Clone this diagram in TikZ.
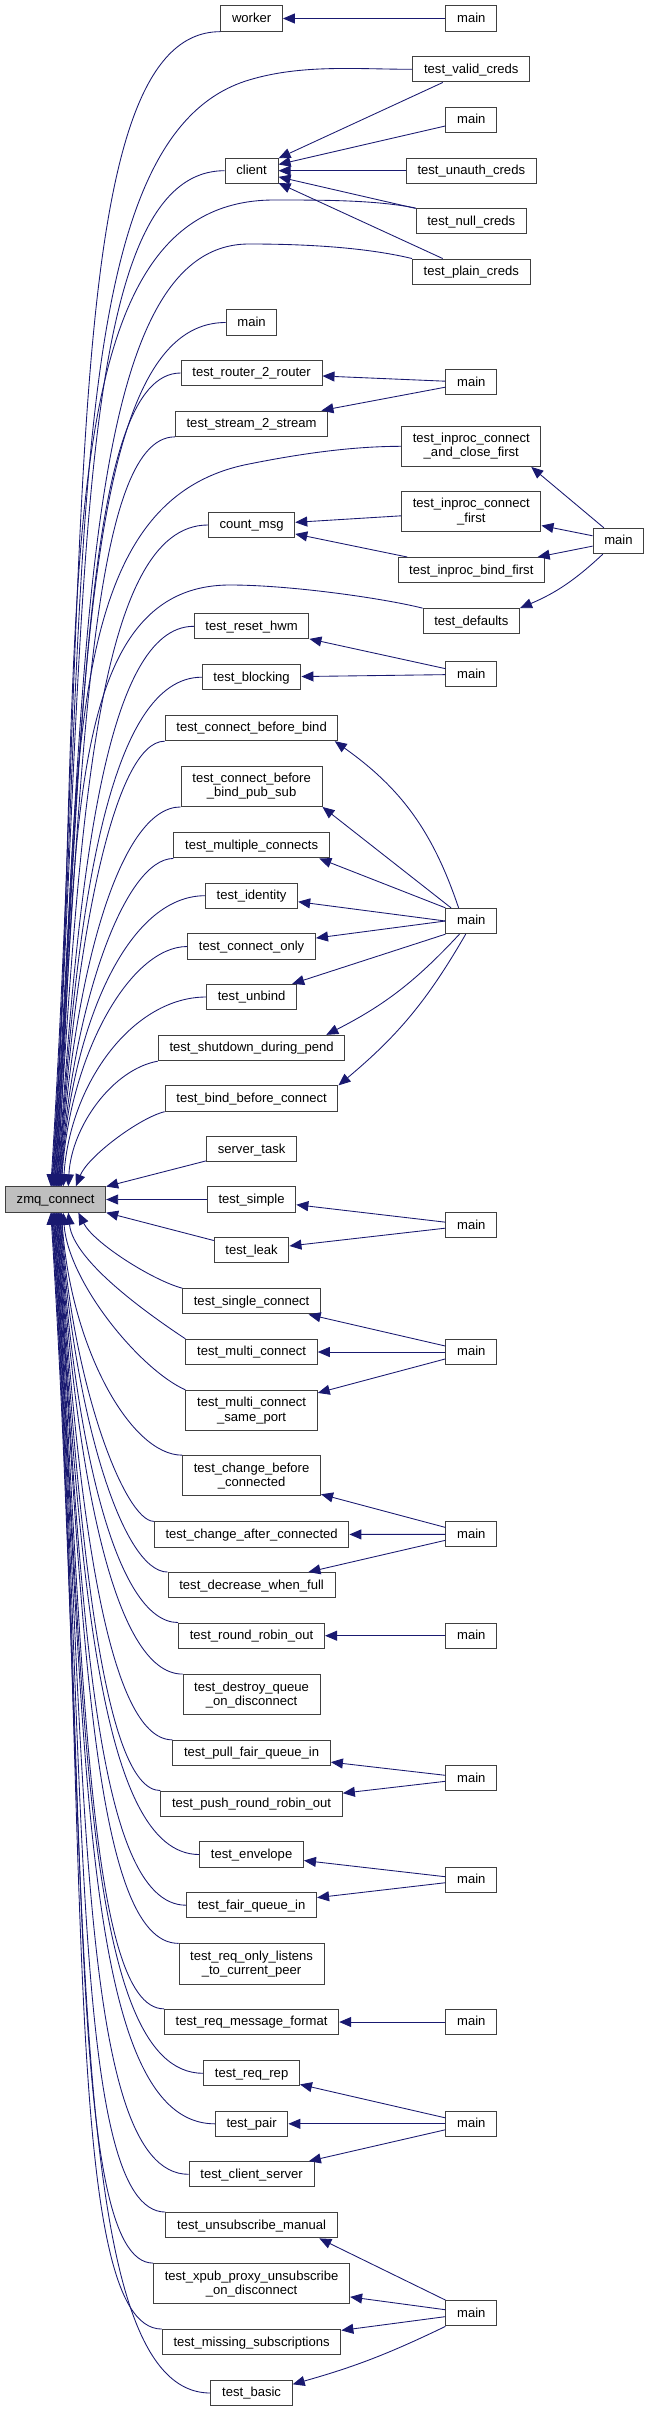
\documentclass[tikz,border=0pt]{standalone}
\usepackage{fontspec}
\setmainfont{Liberation Sans}
\usetikzlibrary{arrows.meta}
\definecolor{edgeblue}{HTML}{191970}
\tikzset{
  >={Triangle[length=9pt,width=7.5pt]},
  fn/.style={draw=black!75, line width=0.75pt, fill=white, inner xsep=8.4pt, inner ysep=0pt,
    minimum height=19pt, text height=8pt, text depth=2.2pt, align=center,
    font=\fontsize{9.8}{10.7}\selectfont},
  twoline/.style={text height={}, text depth={}, minimum height=30.2pt},
  focus/.style={fn, fill=black!25},
  call/.style={->, draw=edgeblue, line width=0.65pt},
}
\begin{document}
\begin{tikzpicture}[x=0.75pt, y=-0.75pt]
  \useasboundingbox (0,0) rectangle (647,2412);
  \node[focus] (zmq) at (55.6,1199.5) {zmq\_connect};

  \node[fn] (worker) at (251.6,18.5) {worker};
  \node[fn] (client) at (251.6,170.7) {client};
  \node[fn] (mainzmq) at (251.6,322.5) {main};
  \node[fn] (router) at (251.6,373) {test\_router\_2\_router};
  \node[fn] (stream) at (251.6,423.7) {test\_stream\_2\_stream};
  \node[fn] (countmsg) at (251.6,525) {count\_msg};
  \node[fn] (hwm) at (251.6,626.3) {test\_reset\_hwm};
  \node[fn] (blocking) at (251.6,677.2) {test\_blocking};
  \node[fn] (cbb) at (251.6,728) {test\_connect\_before\_bind};
  \node[fn, twoline] (cbbps) at (251.6,786.3) {test\_connect\_before\\\_bind\_pub\_sub};
  \node[fn] (multiple) at (251.6,845.3) {test\_multiple\_connects};
  \node[fn] (identity) at (251.6,895.7) {test\_identity};
  \node[fn] (conly) at (251.6,946.5) {test\_connect\_only};
  \node[fn] (unbind) at (251.6,997) {test\_unbind};
  \node[fn] (shutdown) at (251.6,1048) {test\_shutdown\_during\_pend};
  \node[fn] (bbc) at (251.6,1098.5) {test\_bind\_before\_connect};
  \node[fn] (server) at (251.6,1149.2) {server\_task};
  \node[fn] (simple) at (251.6,1199.5) {test\_simple};
  \node[fn] (leak) at (251.6,1250.3) {test\_leak};
  \node[fn] (single) at (251.6,1301.3) {test\_single\_connect};
  \node[fn] (multi) at (251.6,1352) {test\_multi\_connect};
  \node[fn, twoline] (multisp) at (251.6,1410.5) {test\_multi\_connect\\\_same\_port};
  \node[fn, twoline] (chgbefore) at (251.6,1475.8) {test\_change\_before\\\_connected};
  \node[fn] (chgafter) at (251.6,1534.5) {test\_change\_after\_connected};
  \node[fn] (decrease) at (251.6,1585.2) {test\_decrease\_when\_full};
  \node[fn] (rrout) at (251.6,1635.7) {test\_round\_robin\_out};
  \node[fn, twoline] (destroy) at (251.6,1694.7) {test\_destroy\_queue\\\_on\_disconnect};
  \node[fn] (pullfq) at (251.6,1753) {test\_pull\_fair\_queue\_in};
  \node[fn] (pushrr) at (251.6,1803.7) {test\_push\_round\_robin\_out};
  \node[fn] (envelope) at (251.6,1854.5) {test\_envelope};
  \node[fn] (fairq) at (251.6,1905.2) {test\_fair\_queue\_in};
  \node[fn, twoline] (reqonly) at (251.6,1964) {test\_req\_only\_listens\\\_to\_current\_peer};
  \node[fn] (reqmsg) at (251.6,2022) {test\_req\_message\_format};
  \node[fn] (reqrep) at (251.6,2073.3) {test\_req\_rep};
  \node[fn] (pair) at (251.6,2123.8) {test\_pair};
  \node[fn] (clisrv) at (251.6,2174.3) {test\_client\_server};
  \node[fn] (unsub) at (251.6,2225.2) {test\_unsubscribe\_manual};
  \node[fn, twoline] (xpub) at (251.6,2283.7) {test\_xpub\_proxy\_unsubscribe\\\_on\_disconnect};
  \node[fn] (missing) at (251.6,2342.2) {test\_missing\_subscriptions};
  \node[fn] (basic) at (251.6,2393) {test\_basic};

  \node[fn] (mainworker) at (471.3,18.5) {main};
  \node[fn] (validcreds) at (471.3,69.3) {test\_valid\_creds};
  \node[fn] (mainclient) at (471.3,120) {main};
  \node[fn] (unauthcreds) at (471.3,170.7) {test\_unauth\_creds};
  \node[fn] (nullcreds) at (471.3,221.2) {test\_null\_creds};
  \node[fn] (plaincreds) at (471.3,271.7) {test\_plain\_creds};
  \node[fn] (mainrouter) at (471.3,382.3) {main};
  \node[fn, twoline] (inclose) at (471.3,446.3) {test\_inproc\_connect\\\_and\_close\_first};
  \node[fn, twoline] (infirst) at (471.3,511.5) {test\_inproc\_connect\\\_first};
  \node[fn] (inbind) at (471.3,570.2) {test\_inproc\_bind\_first};
  \node[fn] (defaults) at (471.3,621.3) {test\_defaults};
  \node[fn] (mainhwm) at (471.3,674.3) {main};
  \node[fn] (mainbig) at (471.3,921) {main};
  \node[fn] (mainsimple) at (471.3,1225.2) {main};
  \node[fn] (mainmulti) at (471.3,1352) {main};
  \node[fn] (mainchange) at (471.3,1534.3) {main};
  \node[fn] (mainrr) at (471.3,1635.7) {main};
  \node[fn] (mainpull) at (471.3,1778.3) {main};
  \node[fn] (mainenv) at (471.3,1879.7) {main};
  \node[fn] (mainreq) at (471.3,2022) {main};
  \node[fn] (mainpair) at (471.3,2123.8) {main};
  \node[fn] (mainsub) at (471.3,2313.2) {main};
  \node[fn] (maininproc) at (618.5,541) {main};

  % callers above zmq_connect
  \draw[call] (worker.south west) .. controls +(-161,0) and +(40,-636) .. (zmq.110);
  \draw[call] (validcreds.west) .. controls +(-55,0) and +(53,-16) .. (249,80) .. controls +(-191,57) and +(39,-609) .. (zmq.107);
  \draw[call] (client.west) .. controls +(-156,0) and +(36,-559) .. (zmq.105);
  \draw[call] (nullcreds.north west) .. controls +(-40,-8) and +(50,0) .. (274,200) .. controls +(-240,0) and +(35,-543) .. (zmq.102);
  \draw[call] (plaincreds.north west) .. controls +(-50,-12) and +(50,0) .. (249,244) .. controls +(-169,0) and +(33,-519) .. (zmq.100);
  \draw[call] (mainzmq.west) .. controls +(-145,0) and +(30,-475) .. (zmq.97);
  \draw[call] (router.west) .. controls +(-97,0) and +(28,-448) .. (zmq.94);
  \draw[call] (stream.south west) .. controls +(-85,0) and +(26,-413) .. (zmq.92);
  \draw[call] (inclose.west) .. controls +(-50,0) and +(50,-10) .. (249,464) .. controls +(-196,38) and +(25,-398) .. (zmq.89);
  \draw[call] (countmsg.west) .. controls +(-111,0) and +(23,-364) .. (zmq.86);
  \draw[call] (defaults.north west) .. controls +(-40,-10) and +(60,0) .. (230,585) .. controls +(-170,0) and +(21,-331) .. (zmq.84);
  \draw[call] (hwm.west) .. controls +(-89,0) and +(20,-308) .. (zmq.81);
  \draw[call] (blocking.west) .. controls +(-93,0) and +(18,-280) .. (zmq.78);
  \draw[call] (cbb.south west) .. controls +(-51,0) and +(16,-245) .. (zmq.76);
  \draw[call] (cbbps.south west) .. controls +(-62,0) and +(13,-209) .. (zmq.73);
  \draw[call] (multiple.south west) .. controls +(-49,0) and +(12,-181) .. (zmq.71);
  \draw[call] (identity.west) .. controls +(-78,0) and +(10,-160) .. (zmq.68);
  \draw[call] (conly.west) .. controls +(-57,0) and +(8,-132) .. (zmq.66);
  \draw[call] (unbind.west) .. controls +(-72,0) and +(7,-105) .. (zmq.60);
  \draw[call] (shutdown.south west) .. controls +(-45,8) and +(3,-60) .. (zmq.46);
  \draw[call] (bbc.south west) .. controls +(-25,6) and +(12,-30) .. (zmq.33);
  \draw[call] (server) -- (zmq);
  \draw[call] (simple) -- (zmq);
  \draw[call] (leak) -- (zmq);

  % callers below zmq_connect
  \draw[call] (single.north west) .. controls +(-30,-8) and +(15,30) .. (zmq.-30);
  \draw[call] (multi.north west) .. controls +(-30,-20) and +(5,50) .. (zmq.-46);
  \draw[call] (multisp.north west) .. controls +(-45,-20) and +(5,70) .. (zmq.-60);
  \draw[call] (chgbefore.north west) .. controls +(-52,0) and +(9,134) .. (zmq.-66);
  \draw[call] (chgafter.north west) .. controls +(-29,0) and +(11,171) .. (zmq.-68);
  \draw[call] (decrease.north west) .. controls +(-46,0) and +(13,198) .. (zmq.-71);
  \draw[call] (rrout.north west) .. controls +(-63,0) and +(14,226) .. (zmq.-73);
  \draw[call] (destroy.north west) .. controls +(-70,0) and +(16,254) .. (zmq.-76);
  \draw[call] (pullfq.north west) .. controls +(-66,0) and +(18,290) .. (zmq.-78);
  \draw[call] (pushrr.north west) .. controls +(-58,0) and +(20,318) .. (zmq.-81);
  \draw[call] (envelope.west) .. controls +(-101,0) and +(22,353) .. (zmq.-84);
  \draw[call] (fairq.west) .. controls +(-93,0) and +(24,381) .. (zmq.-86);
  \draw[call] (reqonly.north west) .. controls +(-87,0) and +(26,402) .. (zmq.-89);
  \draw[call] (reqmsg.north west) .. controls +(-78,0) and +(28,438) .. (zmq.-92);
  \draw[call] (reqrep.west) .. controls +(-123,0) and +(30,474) .. (zmq.-95);
  \draw[call] (pair.west) .. controls +(-138,0) and +(32,501) .. (zmq.-97);
  \draw[call] (clisrv.west) .. controls +(-115,0) and +(34,529) .. (zmq.-100);
  \draw[call] (unsub.north west) .. controls +(-96,0) and +(35,550) .. (zmq.-102);
  \draw[call] (xpub.north west) .. controls +(-88,0) and +(37,578) .. (zmq.-105);
  \draw[call] (missing.north west) .. controls +(-101,0) and +(39,614) .. (zmq.-107);
  \draw[call] (basic.west) .. controls +(-150,0) and +(41,650) .. (zmq.-110);

  % main functions and second level
  \draw[call] (mainworker) -- (worker);
  \draw[call] (validcreds) -- (client);
  \draw[call] (mainclient) -- (client);
  \draw[call] (unauthcreds) -- (client);
  \draw[call] (nullcreds) -- (client);
  \draw[call] (plaincreds) -- (client);
  \draw[call] (mainrouter) -- (router);
  \draw[call] (mainrouter) -- (stream);
  \draw[call] (maininproc.138) -- (inclose.-19);
  \draw[call] (maininproc) -- (infirst);
  \draw[call] (maininproc) -- (inbind);
  \draw[call] (maininproc.220) to[bend left=10] (defaults.north east);
  \draw[call] (infirst) -- (countmsg);
  \draw[call] (inbind) -- (countmsg);
  \draw[call] (mainhwm) -- (hwm);
  \draw[call] (mainhwm) -- (blocking);
  \draw[call] (mainbig.134) to[bend right=18] (cbb.-9);
  \draw[call] (mainbig.147) -- (cbbps.south east);
  \draw[call] (mainbig.north west) -- (multiple.-11);
  \draw[call] (mainbig.west) -- (identity);
  \draw[call] (mainbig.west) -- (conly);
  \draw[call] (mainbig.south west) -- (unbind);
  \draw[call] (mainbig.228) to[bend left=10] (shutdown.10);
  \draw[call] (mainbig.247) to[bend left=10] (bbc.north east);
  \draw[call] (mainsimple) -- (simple);
  \draw[call] (mainsimple) -- (leak);
  \draw[call] (mainmulti) -- (single);
  \draw[call] (mainmulti) -- (multi);
  \draw[call] (mainmulti) -- (multisp);
  \draw[call] (mainchange) -- (chgbefore);
  \draw[call] (mainchange) -- (chgafter);
  \draw[call] (mainchange) -- (decrease);
  \draw[call] (mainrr) -- (rrout);
  \draw[call] (mainpull) -- (pullfq);
  \draw[call] (mainpull) -- (pushrr);
  \draw[call] (mainenv) -- (envelope);
  \draw[call] (mainenv) -- (fairq);
  \draw[call] (mainreq) -- (reqmsg);
  \draw[call] (mainpair) -- (reqrep);
  \draw[call] (mainpair) -- (pair);
  \draw[call] (mainpair) -- (clisrv);
  \draw[call] (mainsub.north west) -- (unsub.-11);
  \draw[call] (mainsub) -- (xpub);
  \draw[call] (mainsub) -- (missing);
  \draw[call] (mainsub.south west) to[bend left=5] (basic.12);
\end{tikzpicture}
\end{document}
